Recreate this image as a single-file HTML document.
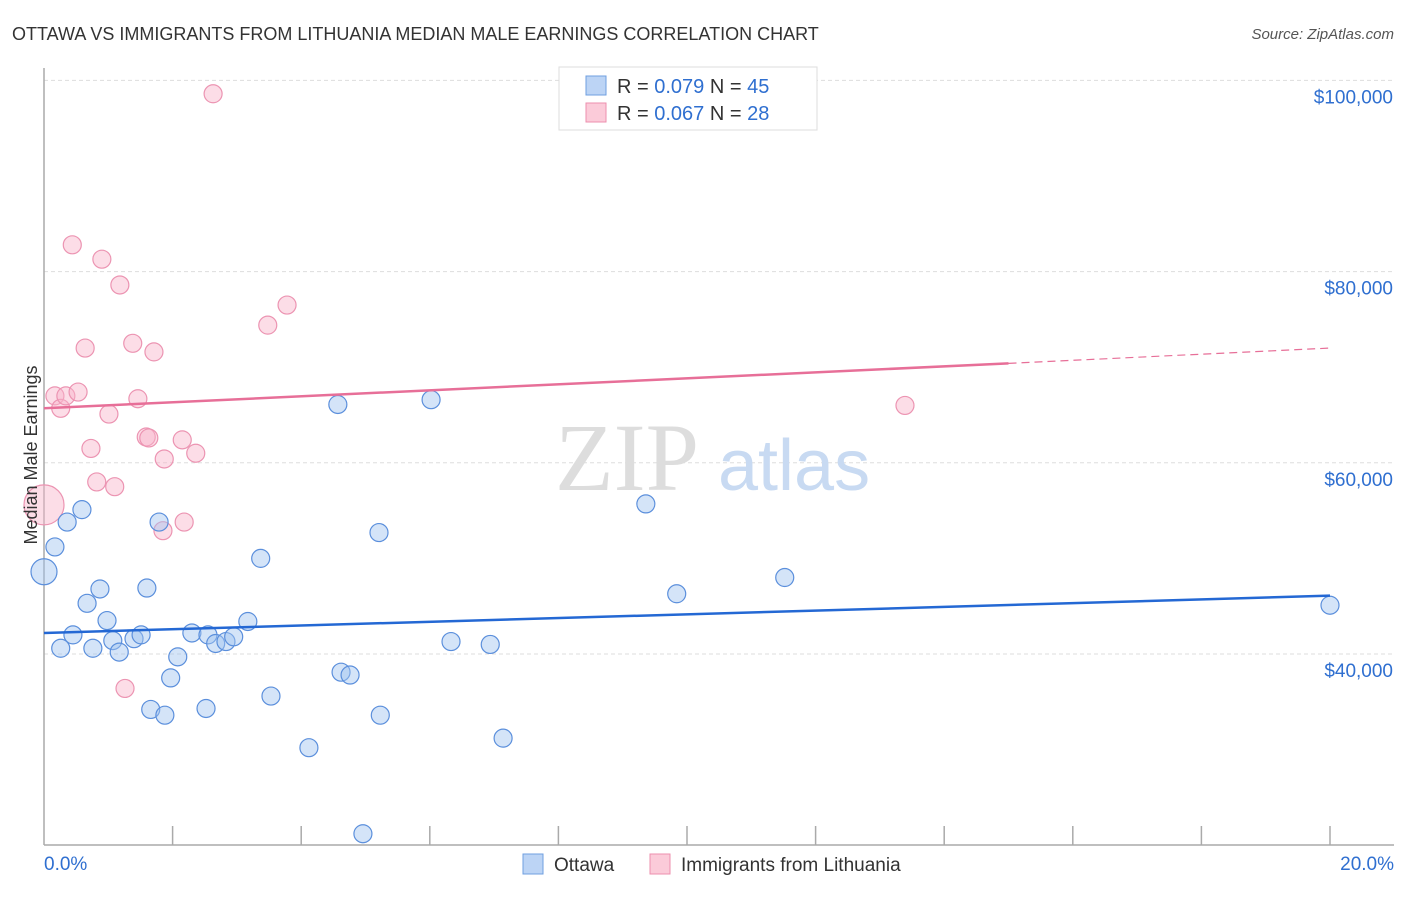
<!DOCTYPE html>
<html><head><meta charset="utf-8"><style>
body{margin:0;background:#fff;font-family:"Liberation Sans",sans-serif;}
</style></head><body>
<svg width="1406" height="892" viewBox="0 0 1406 892" xmlns="http://www.w3.org/2000/svg">
<text x="12" y="40" font-size="18" fill="#333">OTTAWA VS IMMIGRANTS FROM LITHUANIA MEDIAN MALE EARNINGS CORRELATION CHART</text>
<text x="1394" y="39" font-size="15" fill="#555" font-style="italic" text-anchor="end">Source: ZipAtlas.com</text>
<g id="grid"></g>
<g id="axes"></g>
<text x="555" y="490" font-size="96" fill="#ddd" font-family="Liberation Serif">ZIP</text>
<text x="718" y="490" font-size="72" fill="#c8daf2">atlas</text>
<g id="marks"></g>
<text x="37" y="455" font-size="18" fill="#333" transform="rotate(-90 37 455)" text-anchor="middle">Median Male Earnings</text>
<g>
<rect x="559" y="67" width="258" height="63" fill="#fff" stroke="#ddd"/>
<rect x="586" y="76" width="20" height="19" fill="#bcd4f5" stroke="#6f9fe0"/>
<rect x="586" y="103" width="20" height="19" fill="#fbcbd9" stroke="#ec8fae"/>
<text x="617" y="93" font-size="20" fill="#333">R = <tspan fill="#2f6fd0">0.079</tspan>   N = <tspan fill="#2f6fd0">45</tspan></text>
<text x="617" y="120" font-size="20" fill="#333">R = <tspan fill="#2f6fd0">0.067</tspan>   N = <tspan fill="#2f6fd0">28</tspan></text>
</g>
<g>
<rect x="523" y="854" width="20" height="20" fill="#bcd4f5" stroke="#6f9fe0"/>
<text x="554" y="871" font-size="19" fill="#333">Ottawa</text>
<rect x="650" y="854" width="20" height="20" fill="#fbcbd9" stroke="#ec8fae"/>
<text x="681" y="871" font-size="19" fill="#333">Immigrants from Lithuania</text>
</g>
</svg>
<script>
const yTicks=[40000,60000,80000,100000];
const yTickLabels=["$40,000","$60,000","$80,000","$100,000"];
const xTickLabels=["0.0%","20.0%"];
const ottawaX=[0.0,0.17,0.36,0.59,0.26,0.45,0.67,0.76,0.87,0.98,1.07,1.17,1.4,1.51,1.6,1.66,1.79,1.88,1.97,2.08,2.3,2.52,2.55,2.67,2.83,2.95,3.17,3.37,3.53,4.12,4.57,4.62,4.76,4.96,5.21,5.23,6.02,6.33,6.94,7.14,9.36,9.84,11.52,20.0];
const ottawaY=[48.6,51.2,53.8,55.1,40.6,42.0,45.3,40.6,46.8,43.5,41.4,40.2,41.6,42.0,46.9,34.2,53.8,33.6,37.5,39.7,42.2,34.3,42.0,41.1,41.3,41.8,43.4,50.0,35.6,30.2,66.1,38.1,37.8,21.2,52.7,33.6,66.6,41.3,41.0,31.2,55.7,46.3,48.0,45.1];
const lithX=[0.0,0.17,0.26,0.34,0.53,0.44,0.64,0.73,0.82,0.9,1.01,1.1,1.18,1.26,1.38,1.46,1.59,1.63,1.71,1.87,1.85,2.15,2.18,2.36,2.63,3.48,3.78,13.39];
const lithY=[55.6,67.0,65.7,67.0,67.4,82.8,72.0,61.5,58.0,81.3,65.1,57.5,78.6,36.4,72.5,66.7,62.7,62.6,71.6,60.4,52.9,62.4,53.8,61.0,98.6,74.4,76.5,66.0];
const ottawaTrend=[42.2,46.1];
const lithTrend=[65.7,70.4,72.0];
const lithTrendSolidEnd=15.0;
const NS='http://www.w3.org/2000/svg';
const X=v=>44+v*64.3;
const Y=v=>654-(v*1000-40000)/104.6;
function mk(t,a,p){const e=document.createElementNS(NS,t);for(const k in a)e.setAttribute(k,a[k]);p.appendChild(e);return e;}
const grid=document.getElementById('grid'),axes=document.getElementById('axes'),marks=document.getElementById('marks');
yTicks.forEach((t,i)=>{const y=654-(t-40000)/104.6;
const l=mk('line',{x1:44,x2:1394,y1:y,y2:y,stroke:'#ddd','stroke-dasharray':'4 3'},grid);


const tx=mk('text',{x:1393,y:y+23,'font-size':19,fill:'#2f6fd0','text-anchor':'end'},axes);tx.textContent=yTickLabels[i];

});
let a=mk('line',{x1:44,x2:44,y1:68,y2:845,stroke:'#aaa','stroke-width':1.5},axes);


a=mk('line',{x1:44,x2:1394,y1:845,y2:845,stroke:'#aaa','stroke-width':1.5},axes);


for(let i=1;i<=10;i++){const x=X(i*2);const t=mk('line',{x1:x,x2:x,y1:826,y2:845,stroke:'#aaa','stroke-width':1.5},axes);

}
let t1=mk('text',{x:44,y:870,'font-size':19,fill:'#2f6fd0'},axes);t1.textContent=xTickLabels[0];


t1=mk('text',{x:1394,y:870,'font-size':19,fill:'#2f6fd0','text-anchor':'end'},axes);t1.textContent=xTickLabels[1];


lithX.forEach((x,i)=>{const c=mk('circle',{cx:X(x),cy:Y(lithY[i]),r:i==0?20:9,fill:'rgba(248,180,202,0.45)',stroke:'#ec94b2','stroke-width':1.2},marks);

});
ottawaX.forEach((x,i)=>{const c=mk('circle',{cx:X(x),cy:Y(ottawaY[i]),r:i==0?13:9,fill:'rgba(160,195,240,0.45)',stroke:'#5b8fdc','stroke-width':1.2},marks);

});
let l=mk('line',{x1:X(0),y1:Y(ottawaTrend[0]),x2:X(20),y2:Y(ottawaTrend[1]),stroke:'#2468d4','stroke-width':2.5},marks);


l=mk('line',{x1:X(0),y1:Y(lithTrend[0]),x2:X(lithTrendSolidEnd),y2:Y(lithTrend[1]),stroke:'#e76f98','stroke-width':2.5},marks);


l=mk('line',{x1:X(lithTrendSolidEnd),y1:Y(lithTrend[1]),x2:X(20),y2:Y(lithTrend[2]),stroke:'#e76f98','stroke-width':1.2,'stroke-dasharray':'8 5'},marks);


</script>
</body></html>
